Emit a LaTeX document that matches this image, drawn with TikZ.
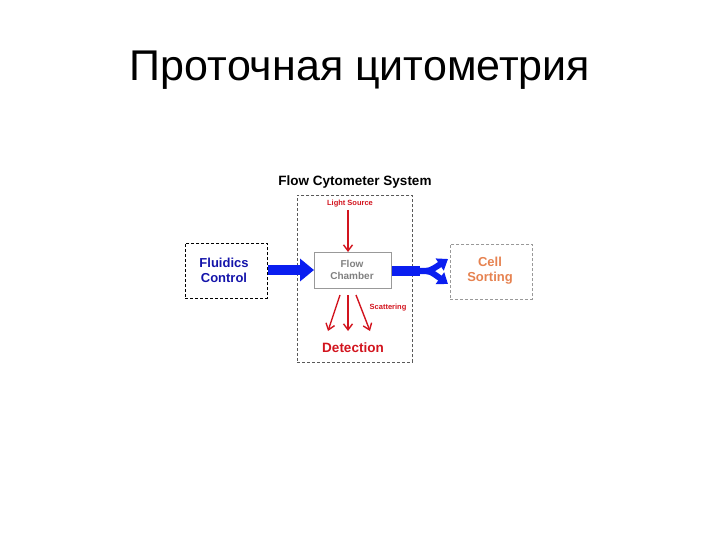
\documentclass[tikz,border=0pt]{standalone}
\usepackage{fontspec}
\setmainfont{Liberation Sans}
\usetikzlibrary{arrows.meta}
\definecolor{dblue}{RGB}{20,20,170}
\definecolor{bblue}{RGB}{10,30,240}
\definecolor{rred}{RGB}{210,20,30}
\definecolor{orng}{RGB}{230,130,80}
\begin{document}
\begin{tikzpicture}[x=1pt,y=-1pt,
  dbox/.style={draw=#1,dashed,line width=0.9pt,dash pattern=on 3pt off 2pt},
  redarr/.style={draw=rred,line width=1.4pt,-{Straight Barb[length=6pt,width=9pt]}},
  bluearr/.style={draw=bblue,line width=10pt,-{Triangle[length=14pt,width=22pt]}}]
\useasboundingbox (0,0) rectangle (720,540);
\node (title) at (360,70) {\fontsize{43}{48}\selectfont Проточная цитометрия};
\node[font=\bfseries\fontsize{13.5}{16}\selectfont] (sys) at (355,182) {Flow Cytometer System};
\node[dbox=gray!70!black,minimum width=115,minimum height=167,anchor=north west] (sysbox) at (297,195) {};
\node[dbox=black,minimum width=82,minimum height=55,anchor=north west] (fluid) at (185,243) {};
\node[font=\bfseries\fontsize{13}{15}\selectfont,text=dblue,align=center] (fluidt) at (224,270) {Fluidics\\Control};
\node[dbox=gray!80,minimum width=82,minimum height=55,anchor=north west] (cell) at (450,244) {};
\node[font=\bfseries\fontsize{13}{15}\selectfont,text=orng,align=center] (cellt) at (490,271) {Cell\\Sorting};
\node[draw=gray!80,line width=0.8pt,minimum width=77,minimum height=36,anchor=north west] (fc) at (314,252) {};
\node[font=\bfseries\fontsize{10}{11.5}\selectfont,text=gray,align=center] (fct) at (352,270) {Flow\\Chamber};
\node[font=\bfseries\fontsize{7.5}{9}\selectfont,text=rred] (ls) at (350,204) {Light Source};
\node[font=\bfseries\fontsize{7.5}{9}\selectfont,text=rred] (sc) at (388,308) {Scattering};
\node[font=\bfseries\fontsize{13.5}{16}\selectfont,text=rred] (det) at (353,348) {Detection};
\coordinate (lsb) at (348,210);
\draw[redarr] (lsb) -- (fc.north -| lsb);
\coordinate (d1) at (340,295); \coordinate (d2) at (348,295); \coordinate (d3) at (356,295);
\coordinate (e1) at (328,331); \coordinate (e2) at (348,331); \coordinate (e3) at (370,331);
\draw[redarr] (d1) -- (e1);
\draw[redarr] (d2) -- (e2);
\draw[redarr] (d3) -- (e3);
\draw[bluearr] (fluid.east |- 0,270) -- (fc.west |- 0,270);
\coordinate (split) at (420,271);
\coordinate (t1) at (448,259); \coordinate (t2) at (448,284);
\draw[draw=bblue,line width=10pt] (fc.east |- 0,271) -- (split);
\draw[draw=bblue,line width=6pt,-{Triangle[length=10pt,width=14pt]}] (split) .. controls (430,271) .. (t1);
\draw[draw=bblue,line width=6pt,-{Triangle[length=10pt,width=14pt]}] (split) .. controls (430,271) .. (t2);
\end{tikzpicture}
\end{document}
